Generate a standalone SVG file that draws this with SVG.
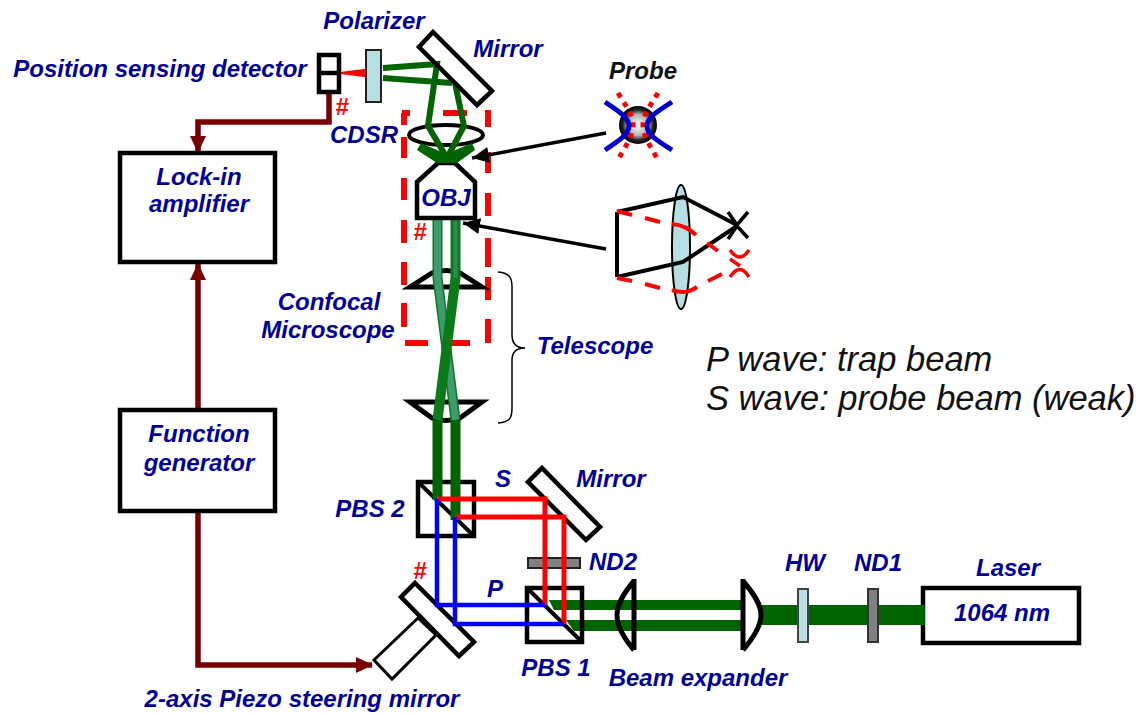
<svg xmlns="http://www.w3.org/2000/svg" width="1139" height="713" viewBox="0 0 1139 713">
<style>
text{font-family:"Liberation Sans",Arial,sans-serif;font-style:italic}
.l{font-weight:bold;font-size:24px;fill:#000099;text-anchor:middle}
.r{font-weight:bold;font-size:24px;fill:#ff0000;text-anchor:middle}
.n{font-style:italic;font-size:34.500px;fill:#111}
.box{fill:#fff;stroke:#000;stroke-width:4.500}
.thin{fill:#fff;stroke:#000;stroke-width:3}
.g{fill:none;stroke:#006400;stroke-width:10}
.gt{fill:none;stroke:#006400;stroke-width:6}
.red{fill:none;stroke:#ff0000;stroke-width:5}
.blue{fill:none;stroke:#0000ff;stroke-width:4.500}
.brown{fill:none;stroke:#7a0000;stroke-width:5.500}
.k{fill:none;stroke:#000;stroke-width:3.500}
.rd{fill:none;stroke:#ff0000;stroke-width:3.500}
</style>
<defs>
<marker id="ab" markerUnits="userSpaceOnUse" markerWidth="20" markerHeight="18" refX="16" refY="8" orient="auto"><path d="M0 0L17 8L0 16Z" fill="#7a0000"/></marker>
<marker id="ak" markerUnits="userSpaceOnUse" markerWidth="20" markerHeight="18" refX="17" refY="8" orient="auto"><path d="M0 0L17 8L0 16Z" fill="#000"/></marker>
<radialGradient id="ball"><stop offset="0" stop-color="#fff"/><stop offset=".55" stop-color="#b5b5b5"/><stop offset=".8" stop-color="#222"/><stop offset="1" stop-color="#000"/></radialGradient>
</defs>

<g id="confocal-frame"><path d="M402 113H410M443 113H467M485 113H491M488 113V127M488 152V173M488 193V216M488 238V267M488 277V300M488 319V343M470 343H452M428 343H405M404 327V303M404 285V262M404 243V220M404 200V178M404 158V137M404 125V113" fill="none" stroke="#ff0000" stroke-width="6"/></g>

<g id="connectors">
<path class="brown" d="M329 93V122H198V152" marker-end="url(#ab)"/>
<path class="brown" d="M198 408V264" marker-end="url(#ab)"/>
<path class="brown" d="M198 511V665H372" marker-end="url(#ab)"/>
<path d="M606 133L472 158" class="k" marker-end="url(#ak)"/>
<path d="M606 249L463 223" class="k" marker-end="url(#ak)"/>
<path d="M498 272C510 273 512 278 512 287V335C512 343 516 348 525 348C516 348 512 352 512 360V408C512 418 510 422 498 423" fill="none" stroke="#000" stroke-width="1.500"/>
</g>

<g id="laser"><rect class="box" x="923" y="588" width="156" height="55"/></g>
<g id="main-beam"><path d="M760 615H925" fill="none" stroke="#006400" stroke-width="20"/>
<path d="M549 600H744V610H554ZM566 620H744V631H574Z" fill="#006400"/></g>
<g id="nd1"><rect x="868" y="589" width="10" height="53" fill="#808080" stroke="#333" stroke-width="2"/></g>
<g id="hw"><rect x="798" y="589" width="10" height="53" fill="#b7dfe3" stroke="#444" stroke-width="2"/></g>
<g id="expander-right"><path d="M743 579V650M743 581C755 595 761 605 761 615C761 625 755 636 743 650" fill="none" stroke="#000" stroke-width="5"/></g>
<g id="expander-left"><path d="M634 579V650M634 581C622 595 617 605 617 615C617 625 622 636 634 650" fill="none" stroke="#000" stroke-width="5"/></g>

<g id="pbs1"><rect x="527" y="588" width="55" height="54" fill="none" stroke="#000" stroke-width="4.500"/><path d="M527 588L582 642" stroke="#000" stroke-width="4"/></g>
<g id="pbs2"><rect x="418" y="482" width="56" height="54" fill="none" stroke="#000" stroke-width="4.500"/><path d="M418 482L474 536" stroke="#000" stroke-width="4"/></g>

<g id="tele-lens-top"><path d="M410 287H482L460 273Q446 268 432 273Z" fill="none" stroke="#000" stroke-width="5"/></g>
<g id="tele-lens-bottom"><path d="M410 402H482L460 418Q446 423 432 418Z" fill="none" stroke="#000" stroke-width="5"/></g>
<g id="telescope-beams">
<path d="M437.500 420V500M455.500 420V520" class="g"/>
<path d="M437.500 217V278L455.500 420" fill="none" stroke="#0a7a1a" stroke-width="10"/>
<path d="M437.500 217V278L455.500 420" fill="none" stroke="#3d9b6e" stroke-width="7"/>
<path d="M455.500 217V278L437.500 420" fill="none" stroke="#0a7a1a" stroke-width="10"/>
<path d="M455.500 217V278" fill="none" stroke="#2e8b57" stroke-width="4"/>
</g>

<g id="mirror-s"><path class="box" d="M542 468L600 527L586 540L528 482Z"/></g>
<g id="nd2"><rect x="528" y="558" width="52" height="10" fill="#808080" stroke="#222" stroke-width="2"/></g>
<g id="piezo"><path class="thin" d="M418 618L436 635L392 679L374 660Z"/></g>
<g id="steering-mirror"><path class="box" d="M415 583L474 642L459 656L401 597Z"/></g>

<g id="split-beams">
<path class="red" d="M437 499H545V605M455 517H564V624"/>
<path class="blue" d="M437 499V605H545M455 517V624H564"/>
</g>

<g id="obj"><path class="box" d="M417 182L438 163H455L475 182V218H417Z"/></g>
<g id="cdsr-lens"><ellipse cx="446" cy="135" rx="37" ry="10" fill="none" stroke="#000" stroke-width="4"/></g>
<g id="top-beams">
<path class="gt" d="M383 68L437 64L428 126L447 158L464 126L455 83M383 78L452 83"/>
<path d="M421 143L446 154L472 143L475 150L457 163H437L417 150Z" fill="#006400"/>
</g>
<g id="top-mirror"><path class="box" d="M433 32L492 91L477 105L419 47Z" style="fill:none"/></g>
<g id="polarizer"><rect x="366" y="50" width="15" height="52" fill="#b7dfe3" stroke="#222" stroke-width="2"/></g>
<g id="detector"><path d="M340 73L365 70V76Z" fill="#ff0000" stroke="#ff0000" stroke-width="2"/><rect class="box" x="319" y="55" width="20" height="37"/><path d="M319 73H339" stroke="#000" stroke-width="4.500"/></g>

<g id="lockin"><rect class="box" x="120" y="153" width="155" height="109"/><text class="l" x="199" y="185">Lock-in</text><text class="l" x="199" y="212">amplifier</text></g>
<g id="funcgen"><rect class="box" x="120" y="410" width="155" height="101"/><text class="l" x="199" y="442">Function</text><text class="l" x="199" y="471">generator</text></g>

<g id="probe-inset">
<circle cx="638" cy="125" r="19" fill="url(#ball)"/>
<path d="M618 93C626 106 633 115 633 125C633 135 626 146 619 158M658 93C650 106 643 115 643 125C643 135 650 146 657 158" fill="none" stroke="#ff0000" stroke-width="5" stroke-dasharray="5 6"/>
<path d="M605 102C620 112 629 118 629 126C629 134 620 140 605 150M672 102C656 112 647 118 647 126C647 134 656 140 672 150" fill="none" stroke="#0000cc" stroke-width="5"/>
</g>

<g id="lens-inset">
<ellipse cx="681" cy="247" rx="9" ry="62" fill="#b7dfe3" stroke="#000" stroke-width="2"/>
<path d="M617 212V277M617 212L683 197L737 225M617 277L683 262L737 226" fill="none" stroke="#000" stroke-width="4"/>
<path class="k" d="M728 212L737 225L748 212M728 239L737 226L748 238"/>
<path d="M617 211L632 215M645 218L660 222M672 224C683 225 690 229 696 235M707 243L718 251M617 278L632 281M645 284L660 288M672 290C683 294 690 292 697 287M708 281L722 274" fill="none" stroke="#ff0000" stroke-width="4"/>
<path class="rd" d="M730 250Q740 264 749 250M730 277Q740 262 749 277M730 259L740 266"/>
</g>

<g id="labels">
<text class="l" x="160" y="77">Position sensing detector</text>
<text class="l" x="374" y="29">Polarizer</text>
<text class="l" x="508" y="57">Mirror</text>
<text class="l" x="364" y="143">CDSR</text>
<text class="l" x="446" y="206">OBJ</text>
<text x="643" y="79" style="font-weight:bold;font-size:24px;fill:#111;text-anchor:middle">Probe</text>
<text class="l" x="329" y="310">Confocal</text>
<text class="l" x="328" y="338">Microscope</text>
<text class="l" x="595" y="354">Telescope</text>
<text class="l" x="370" y="517">PBS 2</text>
<text class="l" x="503" y="487">S</text>
<text class="l" x="611" y="487">Mirror</text>
<text class="l" x="613" y="570">ND2</text>
<text class="l" x="495" y="597">P</text>
<text class="l" x="556" y="676">PBS 1</text>
<text class="l" x="698" y="686">Beam expander</text>
<text class="l" x="805" y="571">HW</text>
<text class="l" x="878" y="571">ND1</text>
<text class="l" x="1008" y="576">Laser</text>
<text class="l" x="1002" y="621">1064 nm</text>
<text class="l" x="302" y="707">2-axis Piezo steering mirror</text>
<text class="r" x="342" y="115">#</text>
<text class="r" x="420" y="240">#</text>
<text class="r" x="420" y="579">#</text>
<text class="n" x="706" y="371">P wave: trap beam</text>
<text class="n" x="706" y="410">S wave: probe beam (weak)</text>
</g>
</svg>
